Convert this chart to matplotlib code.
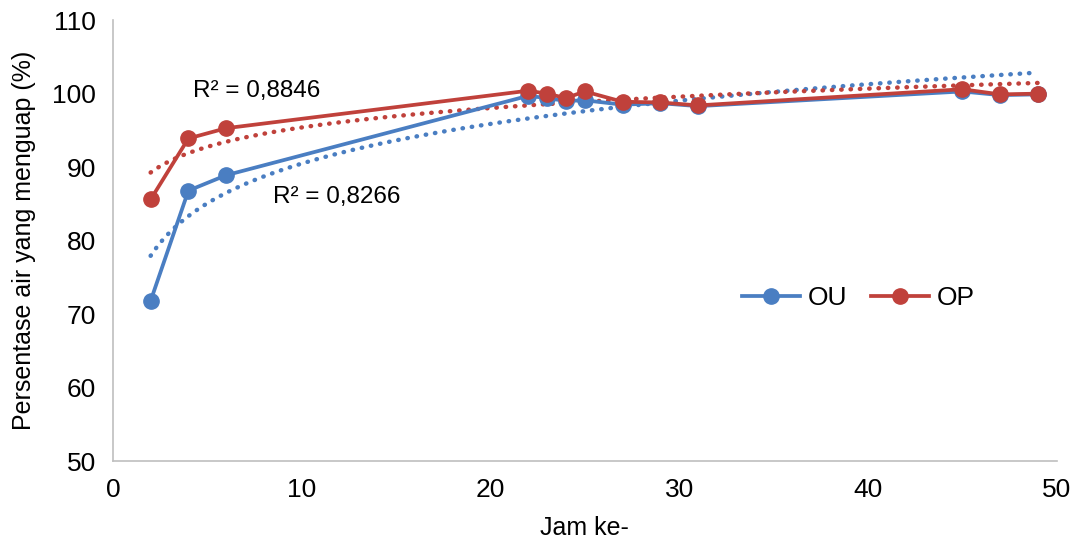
import numpy as np
import matplotlib
matplotlib.use("Agg")
import matplotlib.pyplot as plt

# Jam ke- (x) dan persentase air yang menguap (%)
jam = [2, 4, 6, 22, 23, 24, 25, 27, 29, 31, 45, 47, 49]
ou = [71.8, 86.8, 88.9, 99.7, 99.4, 99.0, 99.1, 98.5, 98.7, 98.3, 100.3, 99.8, 99.9]
op = [85.6, 93.9, 95.3, 100.4, 100.0, 99.4, 100.3, 98.9, 98.8, 98.4, 100.6, 99.9, 100.0]

r2_labels = ["R² = 0,8266", "R² = 0,8846"]

biru = "#4A7EC2"
merah = "#C0413B"

plt.rcParams['font.family'] = ['Liberation Sans', 'DejaVu Sans']

fig = plt.figure(figsize=(10.75, 5.45), dpi=100)
ax = fig.add_axes([0.105, 0.154, 0.878, 0.809])

x = np.array(jam, dtype=float)
ax.plot(x, ou, color=biru, lw=2.7, marker='o', ms=11, label='OU', zorder=3)
ax.plot(x, op, color=merah, lw=2.7, marker='o', ms=11, label='OP', zorder=4)

# trendline logaritmik (seperti Excel)
xs = np.linspace(x.min(), x.max(), 300)
for y, c in [(ou, biru), (op, merah)]:
    a, b = np.polyfit(np.log(x), y, 1)
    ax.plot(xs, a * np.log(xs) + b, color=c, lw=3.2, linestyle=(0, (0.1, 2.0)),
            dash_capstyle='round', zorder=2)

ax.text(8.5, 85.9, r2_labels[0], fontsize=17.5, ha='left', va='center')
ax.text(4.25, 100.4, r2_labels[1], fontsize=17.5, ha='left', va='center')

ax.set_xlim(0, 50)
ax.set_ylim(50, 110)
ax.set_xticks(range(0, 51, 10))
ax.set_yticks(range(50, 111, 10))
ax.tick_params(length=0, labelsize=19, pad=12)
for s in ['top', 'right']:
    ax.spines[s].set_visible(False)
for s in ['left', 'bottom']:
    ax.spines[s].set_color('#BFBFBF')
    ax.spines[s].set_linewidth(1.2)

ax.set_xlabel('Jam ke-', fontsize=18, labelpad=10)
ax.set_ylabel('Persentase air yang menguap (%)', fontsize=18, labelpad=12)

ax.legend(loc='center', bbox_to_anchor=(0.79, 0.37), ncol=2, frameon=False,
          fontsize=19, handlelength=2.2, columnspacing=0.9, handletextpad=0.3)

fig.savefig('out.png', dpi=100)
